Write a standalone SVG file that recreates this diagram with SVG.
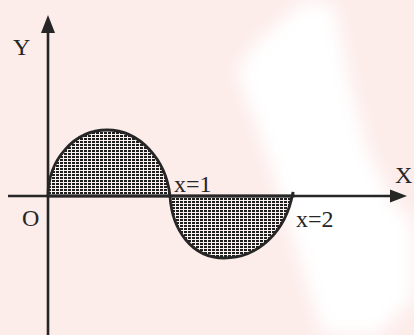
<svg xmlns="http://www.w3.org/2000/svg" width="414" height="335" viewBox="0 0 414 335">
<style>
.ax{stroke:#262626;stroke-width:2.6;fill:none}
.cv{stroke:#262626;stroke-width:2.8;fill:url(#hatch)}
.hd{fill:#262626}
.lb{font-family:"Liberation Serif","Times New Roman",serif;font-size:24px;fill:#262626}
</style>
<defs>
<pattern id="hatch" width="4" height="3" patternUnits="userSpaceOnUse">
<rect width="4" height="3" fill="#fdf2f0"/>
<rect x="0" y="0" width="3" height="2" fill="#1e1e1e"/>
</pattern>
<filter id="blur" x="-30%" y="-30%" width="160%" height="160%"><feGaussianBlur stdDeviation="9"/></filter>
</defs>
<rect id="background" width="414" height="335" fill="#fcecea"/>
<polygon id="watermark" points="305,0 335,5 350,80 368,150 392,200 414,222 414,300 392,320 380,335 322,335 296,250 268,160 236,70 258,40" fill="#ffffff" filter="url(#blur)"/>
<g id="regions">
<path id="lobe-upper" class="cv" d="M48,196 A59,66 0 0 1 107,130 C140,130 166,160 170,196 Z"/>
<path id="lobe-lower" class="cv" d="M170,196 C172,230 192,258 224,258 C258,258 286,232 293,192 L293,196 Z"/>
</g>
<g id="connectors">
<line id="y-axis" class="ax" x1="48" y1="30" x2="48" y2="335"/>
<polygon class="hd" points="48,15 41,33 55,33"/>
<line id="x-axis" class="ax" x1="8" y1="196" x2="392" y2="196"/>
<polygon class="hd" points="407,196 390,189.5 390,202.5"/>
</g>
<g id="labels">
<text id="label-y" class="lb" x="13" y="55">Y</text>
<text id="label-x" class="lb" x="395" y="183">X</text>
<text id="label-o" class="lb" x="22" y="226">O</text>
<text id="label-x1" class="lb" x="174" y="192">x=1</text>
<text id="label-x2" class="lb" x="296" y="227">x=2</text>
</g>
</svg>
